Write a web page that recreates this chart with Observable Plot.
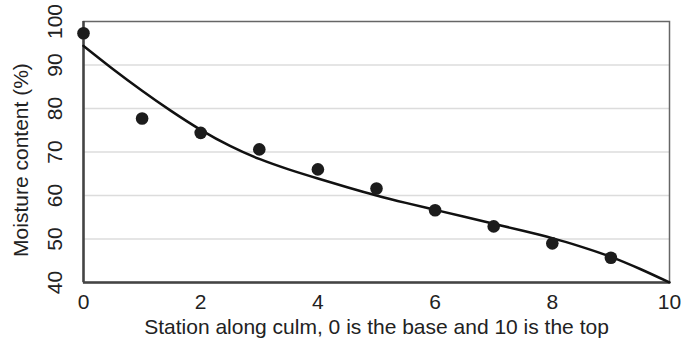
<!DOCTYPE html>
<html>
<head>
<meta charset="utf-8">
<script src="https://cdn.jsdelivr.net/npm/d3@7"></script>
<script src="https://cdn.jsdelivr.net/npm/@observablehq/plot@0.6"></script>
<style>
  html, body { margin: 0; padding: 0; background: #fff; }
  #chart svg { display: block; }
</style>
</head>
<body>
<div id="chart"></div>
<script>
// Measured stations (0 = base, 10 = top)
const stations = [0, 1, 2, 3, 4, 5, 6, 7, 8, 9];
const moisture = [97.3, 77.7, 74.4, 70.6, 66.0, 61.6, 56.6, 52.9, 49.0, 45.7];

// Fitted curve
const curveX = [0, 0.5, 1, 1.5, 2, 2.5, 3, 3.5, 4, 4.5, 5, 5.5, 6, 6.5, 7, 7.5, 8, 8.5, 9, 9.5, 10];
const curveY = [94.4, 89.1, 84.1, 79.4, 75.1, 71.4, 68.4, 66.0, 63.9, 61.9, 60.0, 58.3, 56.7, 55.1, 53.5, 51.9, 50.2, 48.2, 45.9, 43.1, 40.0];

const xTicks = [0, 2, 4, 6, 8, 10];
const yTicks = [40, 50, 60, 70, 80, 90, 100];
const gridY = [50, 60, 70, 80, 90];
const xTitle = "Station along culm, 0 is the base and 10 is the top";
const yTitle = "Moisture content (%)";

const points = stations.map((s, i) => ({x: s, y: moisture[i]}));
const curve = curveX.map((c, i) => ({x: c, y: curveY[i]}));

const chart = Plot.plot({
  width: 683,
  height: 343,
  marginLeft: 83,
  marginRight: 14,
  marginTop: 21,
  marginBottom: 61,
  style: {fontFamily: "'Liberation Sans', Arial, sans-serif", fontSize: "21px", color: "#222", background: "#fff"},
  x: {domain: [0, 10], axis: null},
  y: {domain: [40, 100], axis: null},
  marks: [
    Plot.ruleY(gridY, {stroke: "#dcdcdc", strokeWidth: 1.5}),
    Plot.frame({stroke: "#666", strokeWidth: 1.5}),
    Plot.ruleX([0], {stroke: "#444", strokeWidth: 2.5}),
    Plot.ruleY([40], {stroke: "#444", strokeWidth: 2.5}),
    Plot.line(curve, {x: "x", y: "y", curve: "natural", stroke: "#111", strokeWidth: 2.5}),
    Plot.dot(points, {x: "x", y: "y", r: 6.3, fill: "#1c1c1c", stroke: "none"}),
    // x tick labels
    Plot.text(xTicks, {x: d => d, frameAnchor: "bottom", dy: 20, lineAnchor: "middle", text: d => String(d), fill: "#222", fontSize: 21}),
    // y tick labels (rotated)
    Plot.text(yTicks, {y: d => d, frameAnchor: "left", dx: -28, rotate: -90, textAnchor: "middle", lineAnchor: "middle", text: d => String(d), fill: "#222", fontSize: 21}),
    // axis titles
    Plot.text([xTitle], {frameAnchor: "bottom", dy: 45, lineAnchor: "middle", text: d => d, fill: "#222", fontSize: 21}),
    Plot.text([yTitle], {frameAnchor: "left", dx: -62, dy: 8, rotate: -90, textAnchor: "middle", lineAnchor: "middle", text: d => d, fill: "#222", fontSize: 21})
  ]
});
document.getElementById("chart").appendChild(chart);
</script>
</body>
</html>
